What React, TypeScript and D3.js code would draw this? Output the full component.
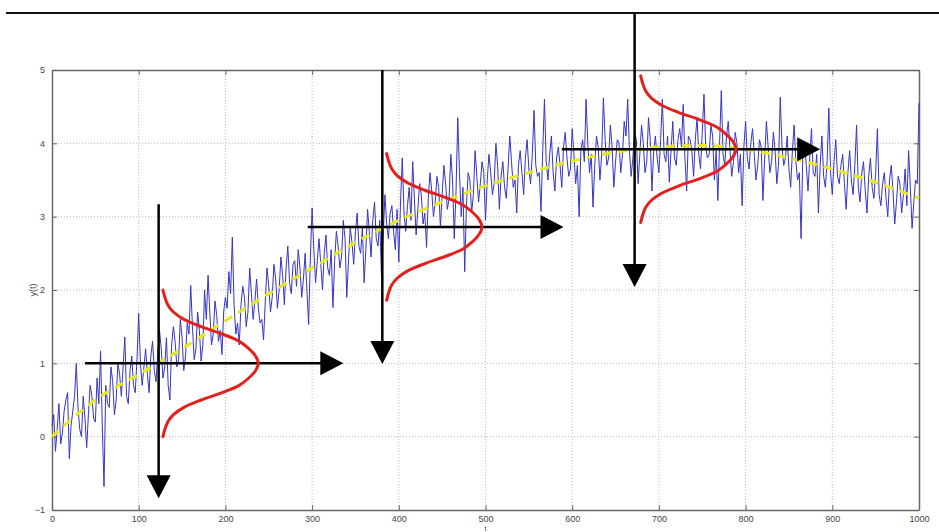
import React, {useEffect, useRef} from 'react';
import * as d3 from 'd3';

// axis ticks
const xTicks = [0, 100, 200, 300, 400, 500, 600, 700, 800, 900, 1000];
const yTicks = [-1, 0, 1, 2, 3, 4, 5];

// noisy measurement y(t): values at t = 0, 4, 8, ... 1000
const tStep = 4;
const signal = [
  0.15, -0.2, 0.45, 0.05, 0.5, -0.3, 0.35, 1.0, 0.1, 0.55, -0.15, 0.7, 0.25, 0.8, 1.17, -0.68, 0.45, 0.95, 0.3, 1.0, 0.55, 1.36, 0.45, 1.1, 0.6,
  1.68, 0.7, 1.2, 0.6, 1.3, 0.75, 1.45, 0.8, 1.35, 0.5, 1.5, 0.95, 1.6, 0.9, 1.55, 2.06, 1.05, 1.7, 1.03, 2.0, 2.2, 1.25, 1.85, 1.3, 1.12,
  1.9, 2.25, 2.72, 1.4, 1.25, 2.05, 1.5, 2.3, 1.6, 2.15, 1.55, 1.32, 2.3, 1.7, 2.35, 1.75, 2.45, 1.8, 2.6, 1.95, 2.4, 2.55, 1.9, 2.5, 1.53,
  3.12, 2.1, 2.7, 2.0, 2.75, 2.2, 1.76, 2.8, 2.3, 2.95, 1.9, 2.85, 2.35, 3.05, 2.5, 2.1, 3.1, 2.45, 3.2, 2.6, 2.2, 3.3, 2.7, 3.15, 2.55,
  2.38, 3.8, 2.8, 3.4, 3.75, 2.75, 3.45, 2.9, 2.58, 3.6, 3.0, 3.55, 2.85, 3.7, 3.1, 3.85, 2.7, 4.35, 3.0, 2.25, 3.6, 3.05, 3.9, 3.2, 3.75,
  2.95, 3.85, 3.3, 4.0, 3.1, 3.75, 3.25, 4.1, 3.4, 3.05, 3.9, 3.3, 4.05, 3.45, 4.45, 3.55, 3.07, 4.6, 3.5, 4.1, 3.35, 3.95, 3.4, 4.15, 3.55,
  4.2, 3.45, 3.0, 4.05, 4.6, 3.6, 3.13, 4.1, 3.5, 4.62, 3.7, 4.25, 3.4, 4.05, 3.6, 4.3, 4.6, 3.55, 4.15, 3.45, 4.25, 3.6, 4.35, 3.35, 4.1,
  3.6, 4.6, 3.75, 3.47, 4.3, 3.7, 4.2, 4.53, 3.35, 4.05, 3.55, 4.35, 3.65, 4.67, 3.8, 4.25, 3.5, 3.22, 4.72, 3.7, 4.3, 3.55, 4.15, 3.6, 3.15,
  4.3, 3.65, 4.2, 3.5, 4.05, 3.22, 4.3, 3.6, 4.15, 3.45, 4.63, 3.7, 4.1, 3.4, 4.25, 3.5, 2.7, 4.0, 3.35, 4.2, 3.55, 3.05, 4.1, 3.4, 4.48,
  3.3, 4.05, 3.45, 3.85, 3.1, 3.9, 3.3, 4.25, 3.2, 3.75, 3.05, 3.8, 3.25, 4.2, 3.15, 3.6, 3.0, 3.7, 2.9, 3.55, 3.05, 3.65, 3.9, 2.84, 3.5, 4.55,
];
// in-between samples at t = 2, 6, 10, ... 998
const signalHalf = [
  0.3, 0.1, -0.1, 0.35, 0.6, 0.15, 0.55, 0.4, 0.0, 0.25, 0.3, 0.55, 0.2, 0.45, 0.15, 0.7, 0.4, 0.75, 0.5, 0.85, 0.95, 0.55, 0.9, 0.7, 1.05,
  1.0, 0.95, 0.85, 1.1, 0.9, 1.15, 1.2, 0.95, 0.7, 1.25, 1.3, 1.05, 1.35, 1.1, 1.4, 1.5, 1.2, 1.45, 1.25, 1.6, 1.7, 1.4, 1.65, 1.45, 1.7,
  1.75, 1.95, 1.8, 1.55, 1.8, 1.9, 1.7, 1.95, 1.85, 1.75, 1.6, 1.85, 2.05, 1.9, 2.15, 2.0, 2.2, 2.3, 2.1, 2.35, 2.05, 2.3, 2.15, 2.0, 2.45,
  2.55, 2.4, 2.35, 2.5, 2.3, 2.55, 2.4, 2.6, 2.45, 2.7, 2.4, 2.65, 2.8, 2.6, 2.85, 2.55, 2.8, 2.95, 2.7, 2.95, 2.75, 2.9, 3.05, 2.8, 3.1,
  3.2, 3.05, 3.15, 2.95, 3.25, 3.1, 3.3, 3.05, 3.25, 3.35, 3.2, 3.4, 3.3, 3.45, 3.25, 3.5, 3.35, 3.6, 3.4, 3.15, 3.5, 3.3, 3.55, 3.45, 3.6,
  3.5, 3.6, 3.45, 3.7, 3.55, 3.4, 3.65, 3.75, 3.5, 3.7, 3.6, 3.8, 3.65, 3.85, 3.7, 3.6, 3.9, 3.75, 3.85, 3.6, 3.8, 3.7, 3.95, 3.8, 3.65,
  3.85, 3.7, 3.9, 3.75, 4.0, 3.85, 3.7, 3.95, 3.85, 4.05, 3.8, 3.95, 3.75, 4.0, 3.85, 4.1, 3.9, 3.8, 4.05, 3.85, 4.0, 3.75, 4.05, 3.9, 3.8,
  4.05, 3.85, 4.1, 3.9, 3.8, 4.05, 3.95, 3.8, 4.1, 3.9, 4.05, 3.85, 4.15, 3.95, 3.85, 4.1, 3.9, 4.0, 3.85, 4.1, 3.9, 3.75, 4.0, 3.85, 3.95,
  3.8, 4.0, 3.85, 3.7, 3.95, 3.8, 3.95, 3.75, 3.9, 3.7, 3.95, 3.8, 3.65, 3.9, 3.75, 3.6, 3.85, 3.7, 3.8, 3.6, 3.85, 3.7, 3.55, 3.75, 3.6,
  3.75, 3.55, 3.7, 3.45, 3.6, 3.5, 3.7, 3.4, 3.6, 3.35, 3.55, 3.4, 3.6, 3.3, 3.45, 3.25, 3.5, 3.35, 3.2, 3.45, 3.3, 3.15, 3.4, 3.2, 3.45,
];

// underlying trend (yellow dashed)
const trendT = [0, 50, 100, 150, 200, 250, 300, 350, 400, 450, 500, 550, 600, 650, 700, 750, 800, 850, 900, 950, 1000];
const trendY = [0, 0.5, 0.85, 1.2, 1.58, 1.95, 2.3, 2.65, 2.95, 3.2, 3.42, 3.6, 3.76, 3.88, 3.95, 3.97, 3.92, 3.8, 3.65, 3.47, 3.25];

// red bell curves, drawn sideways
const bellZ = [-1, -0.9, -0.8, -0.7, -0.6, -0.5, -0.4, -0.3, -0.2, -0.1, 0, 0.1, 0.2, 0.3, 0.4, 0.5, 0.6, 0.7, 0.8, 0.9, 1];
const bellW = [0, 0.02, 0.05, 0.11, 0.22, 0.4, 0.62, 0.8, 0.9, 0.97, 1, 0.97, 0.9, 0.8, 0.62, 0.4, 0.22, 0.11, 0.05, 0.02, 0];
const bellBaseT = [128, 386, 679];
const bellMeanY = [1.0, 2.86, 3.92];
const bellHeightT = 110;

// black arrows
const hArrowY = [1.0, 2.86, 3.92];
const hArrowFrom = [38, 295, 588];
const hArrowTo = [336, 590, 886];
const vArrowT = [123, 381, 672];
const vArrowFrom = [3.17, 5.0, 5.78];
const vArrowTo = [-0.84, 0.99, 2.04];

const App = () => {
  const refObject: any = useRef();
  const width = 939;
  const height = 532;
  const margin = {top: 70, right: 20, bottom: 22, left: 52};

  useEffect(() => {
    document.body.style.margin = '0';
    const svg = d3.select(refObject.current);
    svg.selectAll('*').remove();

    const x = d3.scaleLinear().domain([0, 1000]).range([margin.left, width - margin.right]);
    const y = d3.scaleLinear().domain([-1, 5]).range([height - margin.bottom, margin.top]);
    const font = 'Liberation Sans, Arial, sans-serif';

    svg.append('rect').attr('width', width).attr('height', height).attr('fill', '#fff');

    // top rule
    svg.append('line')
      .attr('x1', 6).attr('x2', width).attr('y1', 13).attr('y2', 13)
      .attr('stroke', '#111').attr('stroke-width', 2);

    // grid
    const grid = svg.append('g').attr('stroke', '#bbb').attr('stroke-width', 1).attr('stroke-dasharray', '1,2');
    xTicks.slice(1, -1).forEach(t => {
      grid.append('line').attr('x1', x(t)).attr('x2', x(t)).attr('y1', y(5)).attr('y2', y(-1));
    });
    yTicks.slice(1, -1).forEach(v => {
      grid.append('line').attr('x1', x(0)).attr('x2', x(1000)).attr('y1', y(v)).attr('y2', y(v));
    });

    // axes: MATLAB style box with inward ticks on every side
    const tick = 5;
    const fmt = d3.format('d');
    const axisBottom = svg.append('g').attr('transform', `translate(0,${y(-1)})`)
      .call(d3.axisBottom(x).tickValues(xTicks).tickFormat(fmt).tickSizeInner(-tick).tickSizeOuter(0).tickPadding(6));
    const axisTop = svg.append('g').attr('transform', `translate(0,${y(5)})`)
      .call(d3.axisTop(x).tickValues(xTicks).tickSizeInner(-tick).tickSizeOuter(0).tickFormat(() => ''));
    const axisLeft = svg.append('g').attr('transform', `translate(${x(0)},0)`)
      .call(d3.axisLeft(y).tickValues(yTicks).tickFormat(fmt).tickSizeInner(-tick).tickSizeOuter(0).tickPadding(7));
    const axisRight = svg.append('g').attr('transform', `translate(${x(1000)},0)`)
      .call(d3.axisRight(y).tickValues(yTicks).tickSizeInner(-tick).tickSizeOuter(0).tickFormat(() => ''));
    [axisBottom, axisTop, axisLeft, axisRight].forEach(g => {
      g.select('.domain').attr('stroke', '#666').attr('stroke-width', 1.5);
      g.selectAll('.tick line').attr('stroke', '#666');
      g.selectAll('text').attr('fill', '#444').attr('font-size', 9).attr('font-family', font);
    });

    svg.append('text').attr('transform', `translate(36,${y(2)}) rotate(-90)`)
      .attr('text-anchor', 'middle').attr('font-size', 9).attr('fill', '#444')
      .attr('font-family', font).text('y(t)');
    svg.append('text').attr('x', x(500)).attr('y', 531)
      .attr('text-anchor', 'middle').attr('font-size', 7).attr('fill', '#444')
      .attr('font-family', font).text('t');

    // noisy signal, both sample sets merged in t order
    const points: [number, number][] = [];
    signal.forEach((v, i) => {
      points.push([i * tStep, v]);
      if (i < signalHalf.length) points.push([i * tStep + tStep / 2, signalHalf[i]]);
    });
    const line = d3.line<[number, number]>().x(d => x(d[0])).y(d => y(d[1]));
    svg.append('path').datum(points)
      .attr('fill', 'none').attr('stroke', '#3434c8').attr('stroke-width', 1)
      .attr('stroke-linejoin', 'round').attr('d', line);

    // trend
    const trendLine = d3.line<number>().x((d, i) => x(trendT[i])).y(d => y(d)).curve(d3.curveMonotoneX);
    svg.append('path').datum(trendY)
      .attr('fill', 'none').attr('stroke', '#e8e81e').attr('stroke-width', 3)
      .attr('stroke-dasharray', '9,7').attr('d', trendLine);

    // arrows
    const arrows = svg.append('g').attr('fill', '#000').attr('stroke', '#000');
    const headL = 23;
    const headW = 12;
    hArrowY.forEach((v, i) => {
      const x0 = x(hArrowFrom[i]);
      const x1 = x(hArrowTo[i]);
      const yy = y(v);
      arrows.append('line').attr('x1', x0).attr('x2', x1 - headL + 2).attr('y1', yy).attr('y2', yy).attr('stroke-width', 2.5);
      arrows.append('path').attr('stroke', 'none')
        .attr('d', `M${x1},${yy}L${x1 - headL},${yy - headW}L${x1 - headL},${yy + headW}Z`);
    });
    vArrowT.forEach((t, i) => {
      const xx = x(t);
      const y0 = y(vArrowFrom[i]);
      const y1 = y(vArrowTo[i]);
      arrows.append('line').attr('x1', xx).attr('x2', xx).attr('y1', y0).attr('y2', y1 - headL + 2).attr('stroke-width', 2.5);
      arrows.append('path').attr('stroke', 'none')
        .attr('d', `M${xx},${y1}L${xx - headW},${y1 - headL}L${xx + headW},${y1 - headL}Z`);
    });

    // bell curves
    bellBaseT.forEach((b, k) => {
      const bell = d3.line<number>()
        .x((d, i) => x(b + bellHeightT * bellW[i]))
        .y(d => y(bellMeanY[k] + d))
        .curve(d3.curveCatmullRom);
      svg.append('path').datum(bellZ)
        .attr('fill', 'none').attr('stroke', '#e3201c').attr('stroke-width', 3)
        .attr('stroke-linecap', 'round').attr('d', bell);
    });
  }, []);

  return <svg ref={refObject} width={width} height={height} style={{display: 'block'}}/>;
};

export default App;
